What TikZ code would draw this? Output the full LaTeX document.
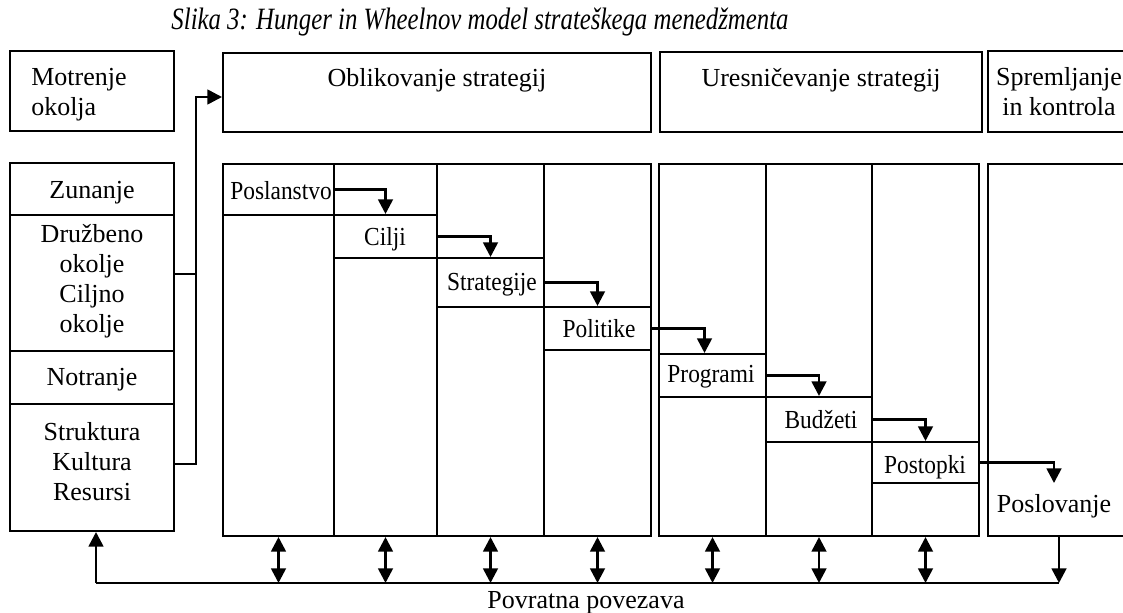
\documentclass[tikz,border=0pt]{standalone}
\usepackage{fontspec}
\setmainfont{Liberation Serif}
\newfontfamily\stepfont[FakeStretch=0.9]{Liberation Serif}
\newfontfamily\titlefont[FakeStretch=0.8]{Liberation Serif}
\usetikzlibrary{arrows.meta,fit}
\begin{document}
\begin{tikzpicture}[x=0.75pt,y=-0.75pt,
  every node/.style={inner sep=0pt, font=\fontsize{19.5}{22.5}\selectfont},
  frame/.style={draw, line width=1.5pt, inner sep=0pt, fit={#1}},
  steptext/.style={anchor=base, font=\stepfont\fontsize{19.5}{22.5}\selectfont},
  link/.style={line width=2pt},
  tip/.tip={Triangle[width=11pt,length=11pt]},
  arr/.style={link, -tip},
  darr/.style={link, tip-tip}]
\useasboundingbox (0,0) rectangle (1123,613);

% title
\node[anchor=base, font=\titlefont\itshape\fontsize{23.25}{28}\selectfont] (title) at (480,30)
  {Slika 3: Hunger in Wheelnov model strateškega menedžmenta};

% header boxes (multi-line texts are placed by the baseline of their last line)
\node[frame={(10,51) (174,131)}] (motr) {};
\node[anchor=base west, align=left] (motrT) at (31,116) {Motrenje\\okolja};
\node[frame={(223,53) (651,132)}] (oblik) {};
\node[anchor=base] (oblikT) at (437,87) {Oblikovanje strategij};
\node[frame={(660,52) (982,132)}] (uresn) {};
\node[anchor=base] (uresnT) at (821,87) {Uresničevanje strategij};
\node[frame={(988,51) (1130,132)}] (sprem) {};
\node[anchor=base, align=center] (spremT) at (1059,116) {Spremljanje\\in kontrola};

% environment column
\node[frame={(10,163) (174,215)}] (zun) {};
\node[frame={(10,215) (174,351)}] (druz) {};
\node[frame={(10,351) (174,404)}] (notr) {};
\node[frame={(10,404) (174,531)}] (strk) {};
\node[anchor=base] (zunT) at (92,198) {Zunanje};
\node[anchor=base, align=center] (druzT) at (92,332) {Družbeno\\okolje\\Ciljno\\okolje};
\node[anchor=base] (notrT) at (92,385) {Notranje};
\node[anchor=base, align=center] (strkT) at (92,500) {Struktura\\Kultura\\Resursi};

% process columns
\foreach \n/\a/\b in {c1/223/334, c2/334/437, c3/437/544, c4/544/651,
                      c5/659/766, c6/766/872, c7/872/979, c8/988/1130}
  \node[frame={(\a,164) (\b,536)}] (\n) {};

% step boxes
\node[frame={(223,164) (334,215)}] (posl) {};
\node[frame={(334,215) (437,258)}] (cilj) {};
\node[frame={(437,258) (544,307)}] (strat) {};
\node[frame={(544,307) (651,350)}] (polit) {};
\node[frame={(659,354) (766,397)}] (prog) {};
\node[frame={(766,397) (872,442)}] (budz) {};
\node[frame={(872,442) (979,483)}] (post) {};
\node[steptext] (poslT) at (281,199) {Poslanstvo};
\node[steptext] (ciljT) at (385,245) {Cilji};
\node[steptext] (stratT) at (492,290) {Strategije};
\node[steptext] (politT) at (599,337) {Politike};
\node[steptext] (progT) at (711,382) {Programi};
\node[steptext] (budzT) at (821,428) {Budžeti};
\node[steptext] (postT) at (925,473) {Postopki};
\node[anchor=base, inner ysep=8pt] (poslov) at (1054,512) {Poslovanje};

% flow between steps
\draw[arr] (posl.east) -| (cilj.north);
\draw[arr] (cilj.east) -| (strat.north);
\draw[arr] (strat.east) -| (polit.north);
\draw[arr] (polit.east) -| ([xshift=-6pt]prog.north);
\draw[arr] (prog.east) -| (budz.north);
\draw[arr] (budz.east) -| (post.north);
\draw[arr] (post.east) -| (poslov.north);

% environment scanning feeds strategy formulation
\coordinate (j1) at (196,274);
\coordinate (j2) at (196,464);
\coordinate (jt) at (196,97);
\draw[link] (druz.east |- j1) -- (j1);
\draw[arr] (strk.east |- j2) -- (j2) -- (jt) -- (oblik.west |- jt);

% feedback loop
\coordinate (fbL) at (96,583);
\draw[arr] (c8.south) -- (c8.south |- fbL);
\draw[link] (c8.south |- fbL) -- (fbL);
\draw[arr] (fbL) -- (fbL |- strk.south);
\foreach \n in {c1,c2,c3,c4,c5,c6,c7}
  \draw[darr] (\n.south) -- (\n.south |- fbL);
\node[anchor=base] (povr) at (586,608) {Povratna povezava};
\end{tikzpicture}
\end{document}
